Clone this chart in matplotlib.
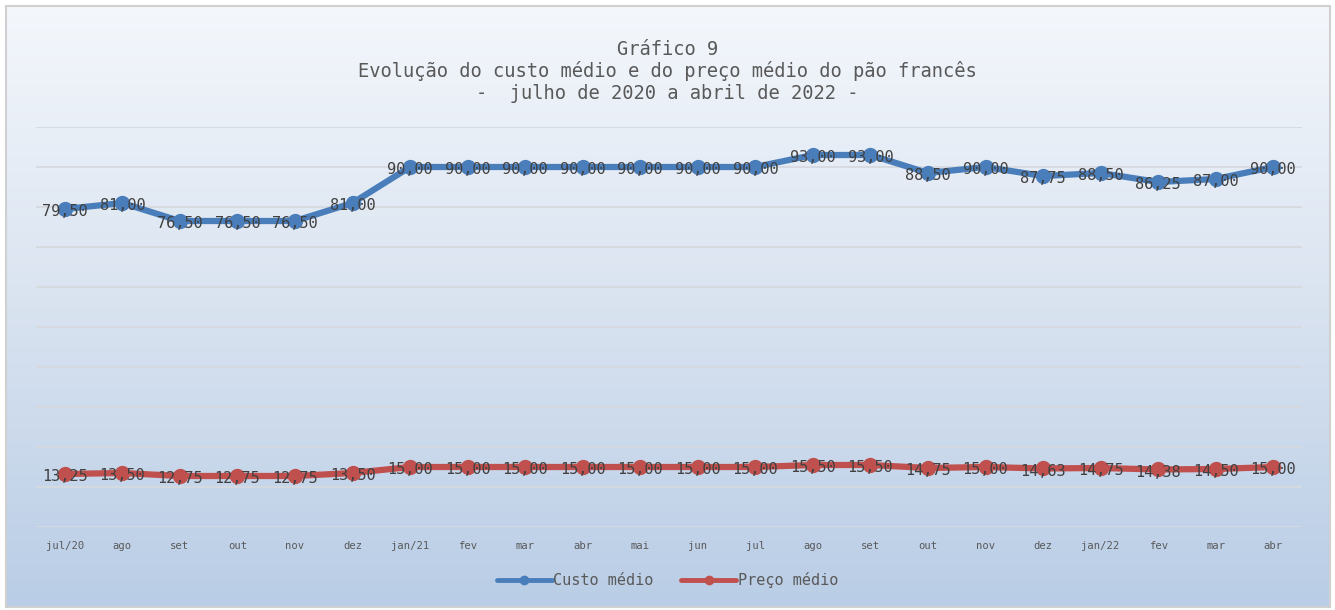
import numpy as np
import matplotlib
matplotlib.use("Agg")
import matplotlib.pyplot as plt
from matplotlib.colors import LinearSegmentedColormap
from matplotlib.patches import Rectangle

meses = ["jul/20", "ago", "set", "out", "nov", "dez", "jan/21", "fev", "mar",
         "abr", "mai", "jun", "jul", "ago", "set", "out", "nov", "dez",
         "jan/22", "fev", "mar", "abr"]
custo_medio = [79.50, 81.00, 76.50, 76.50, 76.50, 81.00, 90.00, 90.00, 90.00,
               90.00, 90.00, 90.00, 90.00, 93.00, 93.00, 88.50, 90.00, 87.75,
               88.50, 86.25, 87.00, 90.00]
preco_medio = [13.25, 13.50, 12.75, 12.75, 12.75, 13.50, 15.00, 15.00, 15.00,
               15.00, 15.00, 15.00, 15.00, 15.50, 15.50, 14.75, 15.00, 14.63,
               14.75, 14.38, 14.50, 15.00]

titulo = ("Gráfico 9\n"
          "Evolução do custo médio e do preço médio do pão francês\n"
          "-  julho de 2020 a abril de 2022 -")

MONO = "DejaVu Sans Mono"
AZUL = "#4a7ebb"
VERMELHO = "#c0504d"

W, H = 1335, 610
fig = plt.figure(figsize=(W / 100, H / 100), dpi=100)
fig.patch.set_facecolor("white")

# fundo em degradê (branco -> azul claro), com moldura cinza
bg = fig.add_axes([0, 0, 1, 1], zorder=0)
bg.set_xlim(0, W)
bg.set_ylim(H, 0)
bg.axis("off")
cmap = LinearSegmentedColormap.from_list("fundo", ["#f4f7fc", "#d9e3f0", "#b9cde6"])
grad = np.linspace(0, 1, 256)[:, None]
bg.imshow(grad, cmap=cmap, aspect="auto", extent=(6, W - 5, H - 3, 6), zorder=0)
bg.add_patch(Rectangle((6, 6), W - 11, H - 9, fill=False, edgecolor="#d0d0d0",
                       linewidth=1.5, zorder=1))

ax = fig.add_axes([36 / W, 83 / H, 1266 / W, 400 / H], zorder=1)
ax.patch.set_alpha(0)
x = np.arange(len(meses))

ax.plot(x, custo_medio, color=AZUL, lw=4.5, marker="o", ms=10,
        solid_capstyle="round", label="Custo médio", zorder=3)
ax.plot(x, preco_medio, color=VERMELHO, lw=4.5, marker="o", ms=10,
        solid_capstyle="round", label="Preço médio", zorder=3)

for serie in (custo_medio, preco_medio):
    for xi, v in zip(x, serie):
        ax.annotate(f"{v:.2f}".replace(".", ","), (xi, v), xytext=(0, -2),
                    textcoords="offset points", ha="center", va="center",
                    fontsize=11, color="#404040", family=MONO, zorder=4)

ax.set_xlim(-0.5, len(meses) - 0.5)
ax.set_ylim(0, 100)
ax.set_yticks(np.arange(0, 101, 10))
ax.yaxis.grid(True, color="#d6d9de", lw=1.3)
ax.set_axisbelow(True)
ax.tick_params(axis="y", left=False, labelleft=False)
ax.set_xticks(x)
ax.set_xticklabels(meses, family=MONO, fontsize=7.6, color="#595959")
ax.tick_params(axis="x", length=0, pad=10)
for s in ax.spines.values():
    s.set_visible(False)

fig.text(0.5, (H - 40) / H, titulo, ha="center", va="top", family=MONO,
         fontsize=13.5, color="#595959", linespacing=1.15)

leg = fig.legend(loc="center", bbox_to_anchor=(0.5, (H - 580) / H), ncol=2,
                 frameon=False, prop={"family": MONO, "size": 11},
                 handlelength=3.6, handletextpad=0.1, columnspacing=1.8,
                 markerscale=0.6)
for t in leg.get_texts():
    t.set_color("#595959")
for ln in leg.get_lines():
    ln.set_linewidth(3.5)

fig.savefig("out.png", dpi=100)
